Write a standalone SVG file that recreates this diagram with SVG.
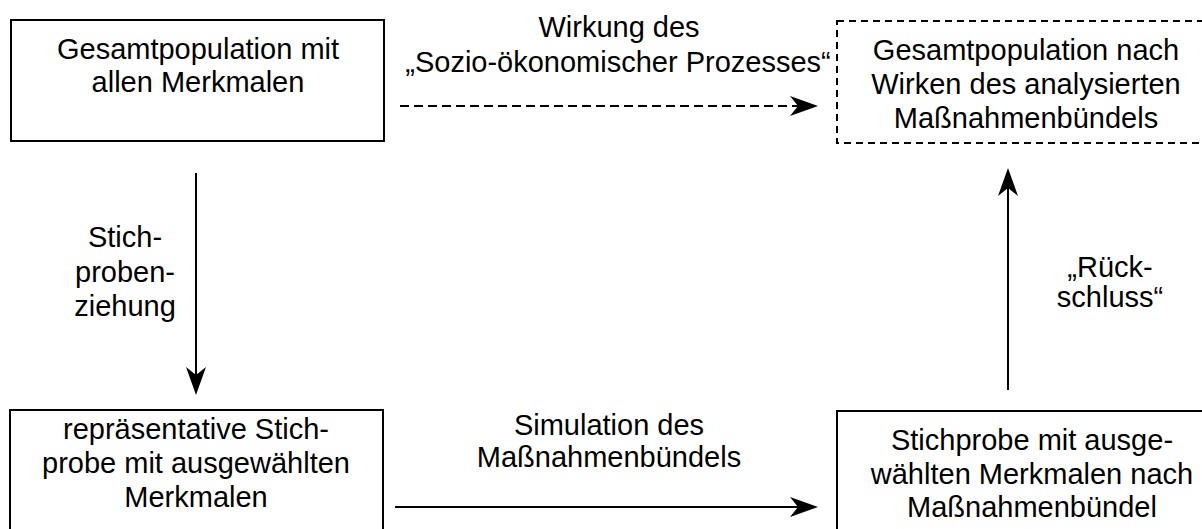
<svg xmlns="http://www.w3.org/2000/svg" width="1202" height="529" viewBox="0 0 1202 529">
  <style>
    .box { fill: #ffffff; stroke: #000000; stroke-width: 2; }
    .dashed { stroke-dasharray: 7 5; }
    .label { font-family: "Liberation Sans", Arial, sans-serif; font-size: 29px; fill: #000000; text-anchor: middle; }
    .link { fill: none; stroke: #000000; stroke-width: 2; }
    .link-dashed { stroke-dasharray: 9 5; }
  </style>
  <defs>
    <!-- barbed arrowhead; reference point sits at the notch so the line ends inside the head -->
    <marker id="arrow" viewBox="-8 -10 28 20" refX="0" refY="0" markerWidth="28" markerHeight="20" markerUnits="userSpaceOnUse" orient="auto">
      <path d="M-8,-10 L20,0 L-8,10 L0,0 Z" fill="#000000"/>
    </marker>
  </defs>
  <rect x="0" y="0" width="1202" height="529" fill="#ffffff"/>

  <g id="node-population">
    <rect class="box" x="11" y="20" width="373" height="121"/>
    <text class="label" x="198" y="59">Gesamtpopulation mit</text>
    <text class="label" x="198" y="92">allen Merkmalen</text>
  </g>

  <g id="node-population-after">
    <rect class="box dashed" x="837" y="21" width="378" height="122"/>
    <text class="label" x="1026" y="60">Gesamtpopulation nach</text>
    <text class="label" x="1026" y="94">Wirken des analysierten</text>
    <text class="label" x="1026" y="128">Maßnahmenbündels</text>
  </g>

  <g id="node-sample">
    <rect class="box" x="10" y="410" width="373" height="130"/>
    <text class="label" x="196" y="439">repräsentative Stich-</text>
    <text class="label" x="196" y="473">probe mit ausgewählten</text>
    <text class="label" x="196" y="507">Merkmalen</text>
  </g>

  <g id="node-sample-after">
    <rect class="box" x="837" y="411" width="390" height="130"/>
    <text class="label" x="1032" y="450">Stichprobe mit ausge-</text>
    <text class="label" x="1032" y="484">wählten Merkmalen nach</text>
    <text class="label" x="1032" y="517">Maßnahmenbündel</text>
  </g>

  <g id="connectors">
    <line class="link link-dashed" x1="400" y1="106" x2="798" y2="106" marker-end="url(#arrow)"/>
    <line class="link" x1="196" y1="173" x2="196" y2="375" marker-end="url(#arrow)"/>
    <line class="link" x1="395" y1="507" x2="798" y2="507" marker-end="url(#arrow)"/>
    <line class="link" x1="1008" y1="390" x2="1008" y2="188" marker-end="url(#arrow)"/>
  </g>

  <g id="connector-labels">
    <text class="label" x="619" y="37">Wirkung des</text>
    <text class="label" x="618" y="72">„Sozio-ökonomischer Prozesses“</text>
    <text class="label" x="125" y="247">Stich-</text>
    <text class="label" x="125" y="282">proben-</text>
    <text class="label" x="125" y="316">ziehung</text>
    <text class="label" x="609" y="435">Simulation des</text>
    <text class="label" x="609" y="467">Maßnahmenbündels</text>
    <text class="label" x="1110" y="277">„Rück-</text>
    <text class="label" x="1110" y="307">schluss“</text>
  </g>
</svg>
